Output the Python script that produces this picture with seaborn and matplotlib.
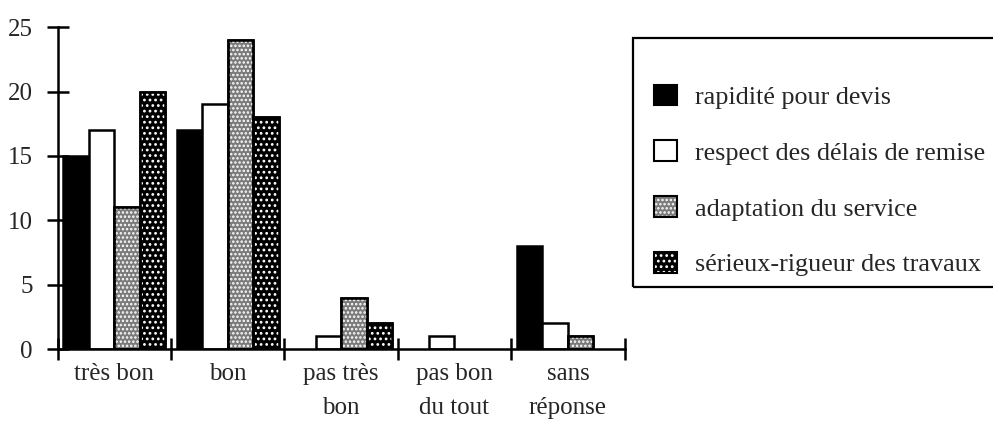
import numpy as np
import pandas as pd
import seaborn as sns
import matplotlib.pyplot as plt
from matplotlib.patches import Rectangle, Patch

categories = ['très bon', 'bon', 'pas très\nbon', 'pas bon\ndu tout', 'sans\nréponse']
series = ['rapidité pour devis', 'respect des délais de remise',
          'adaptation du service', 'sérieux-rigueur des travaux']
rapidite = [15, 17, 0, 0, 8]
respect = [17, 19, 1, 1, 2]
adaptation = [11, 24, 4, 0, 1]
serieux = [20, 18, 2, 0, 0]

# long table for seaborn
rows = []
for name, vals in zip(series, [rapidite, respect, adaptation, serieux]):
    for cat, v in zip(categories, vals):
        rows.append({'cat': cat, 'serie': name, 'val': v})
df = pd.DataFrame(rows)

sns.set_style('white')
plt.rcParams['font.family'] = ['Liberation Serif', 'DejaVu Serif']
plt.rcParams['hatch.linewidth'] = 1.2

# face colour / hatch per series
faces = ['black', 'white', '#7a7a7a', 'black']
hatches = [None, None, '....', '...']
fs = 18

fig = plt.figure(figsize=(9.93, 4.37), dpi=100)
ax = fig.add_axes([0.058, 0.201, 0.571, 0.737])

sns.barplot(data=df, x='cat', y='val', hue='serie', order=categories,
            hue_order=series, palette=faces, width=0.9, saturation=1,
            edgecolor='black', linewidth=1.8, legend=False, ax=ax)

# each hue's bars come in order of categories
for i, p in enumerate(ax.patches[:len(series) * len(categories)]):
    s = i // len(categories)
    p.set_facecolor(faces[s])
    if p.get_height() == 0:
        p.set_visible(False)
        continue
    if hatches[s]:
        ax.add_patch(Rectangle((p.get_x(), p.get_y()), p.get_width(), p.get_height(),
                               facecolor='none', edgecolor='white', hatch=hatches[s],
                               linewidth=0, zorder=p.get_zorder() + 0.1))
        ax.add_patch(Rectangle((p.get_x(), p.get_y()), p.get_width(), p.get_height(),
                               facecolor='none', edgecolor='black',
                               linewidth=1.8, zorder=p.get_zorder() + 0.2))

ax.set_xlim(-0.5, len(categories) - 0.5)
ax.set_ylim(0, 25)
ax.set_yticks([0, 5, 10, 15, 20, 25])
ax.set_xticks(np.arange(-0.5, len(categories)), labels=[''] * (len(categories) + 1))
ax.set_xticks(np.arange(len(categories)), labels=categories, minor=True)
ax.tick_params(axis='x', which='major', bottom=True, direction='inout', length=16,
               width=1.8, color='black')
ax.tick_params(axis='x', which='minor', bottom=True, length=0, labelsize=fs, pad=10)
ax.tick_params(axis='y', left=True, direction='inout', length=16, width=1.8, color='black',
               labelsize=fs, pad=10)
for lab in ax.get_xticklabels(minor=True):
    lab.set_linespacing(1.7)
ax.set_xlabel('')
ax.set_ylabel('')
sns.despine(ax=ax)
for sp in ['left', 'bottom']:
    ax.spines[sp].set_color('black')
    ax.spines[sp].set_linewidth(1.8)

# legend frame (open on the right, runs off the figure)
fig.add_artist(Rectangle((0.6375, 0.3432), 0.40, 0.5698, transform=fig.transFigure,
                         facecolor='none', edgecolor='black', linewidth=1.6))
handles = []
for s in range(len(series)):
    fill = Patch(facecolor=faces[s], edgecolor='white', linewidth=0, hatch=hatches[s])
    outline = Patch(facecolor='none', edgecolor='black', linewidth=1.5)
    handles.append((fill, outline))
leg = fig.legend(handles, series, loc='center left', bbox_to_anchor=(0.659, 0.587),
                 fontsize=18.8, frameon=False,
                 handlelength=0.85, handleheight=0.85, handletextpad=0.7,
                 labelspacing=1.2, borderpad=0, borderaxespad=0)

fig.savefig('out.png', dpi=100)
